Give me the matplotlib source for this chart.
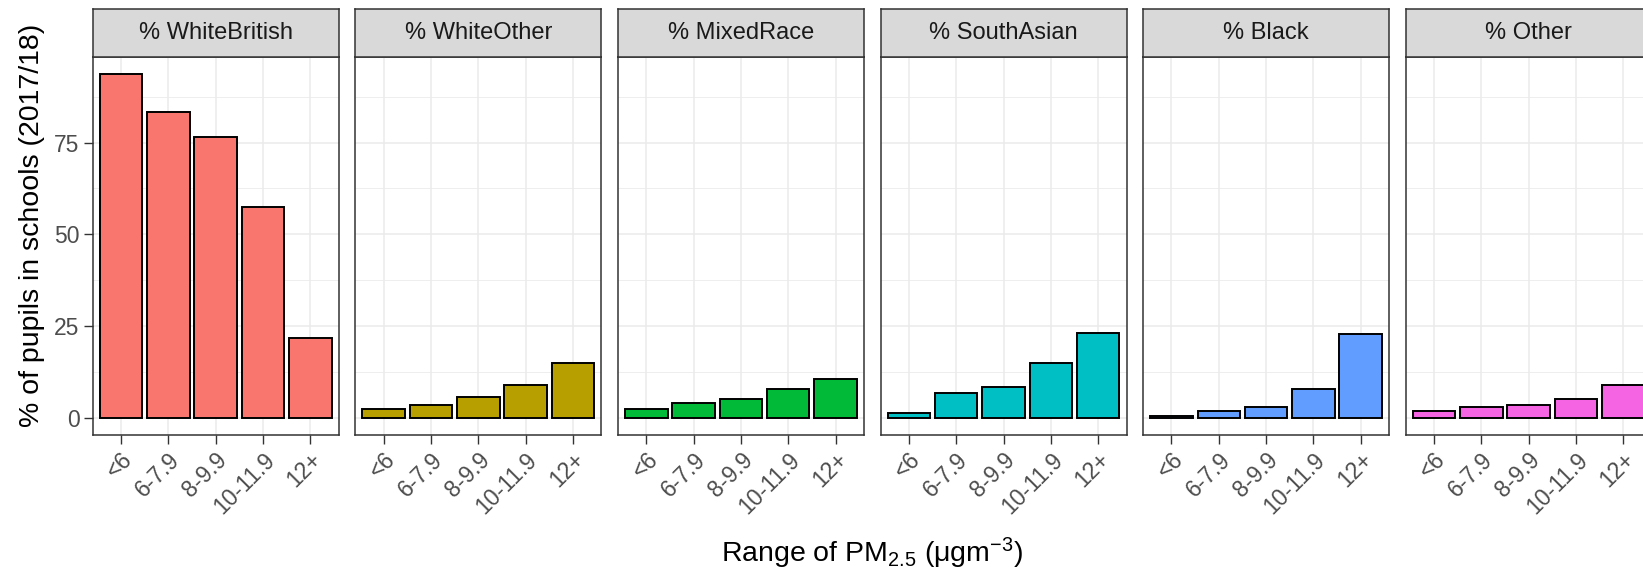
import numpy as np
import matplotlib
matplotlib.use("Agg")
import matplotlib.pyplot as plt

plt.rcParams["font.family"] = ["Liberation Sans", "DejaVu Sans"]
plt.rcParams["mathtext.fontset"] = "custom"
plt.rcParams["mathtext.rm"] = "Liberation Sans"
plt.rcParams["mathtext.it"] = "Liberation Sans:italic"

# data
bins = ["<6", "6-7.9", "8-9.9", "10-11.9", "12+"]
groups = ["% WhiteBritish", "% WhiteOther", "% MixedRace",
          "% SouthAsian", "% Black", "% Other"]
white_british = [93.7, 83.4, 76.4, 57.5, 21.7]
white_other = [2.4, 3.5, 5.6, 8.9, 15.0]
mixed_race = [2.4, 4.0, 5.1, 7.8, 10.5]
south_asian = [1.4, 6.7, 8.4, 15.0, 23.2]
black = [0.5, 1.9, 3.0, 7.9, 22.7]
other = [1.9, 2.9, 3.5, 5.2, 8.9]
values = [white_british, white_other, mixed_race, south_asian, black, other]
colors = ["#F8766D", "#B79F00", "#00BA38", "#00BFC4", "#619CFF", "#F564E3"]

W, H = 1643, 576
fig = plt.figure(figsize=(W / 100, H / 100), dpi=100)

# panel geometry in pixels
left0 = 92.7
pw = 246.0
gap = 16.6
top = 56.7
bottom = 435.0
strip_top = 9.0

ymax = max(max(v) for v in values)
ylo, yhi = -0.05 * ymax, ymax * 1.05
x = np.arange(len(bins))

for i, (name, vals, col) in enumerate(zip(groups, values, colors)):
    lx = left0 + i * (pw + gap)
    ax = fig.add_axes([lx / W, 1 - bottom / H, pw / W, (bottom - top) / H])
    ax.set_axisbelow(True)
    ax.bar(x, vals, width=0.9, color=col, edgecolor="black", linewidth=1.4, zorder=3)
    ax.set_xlim(-0.6, len(bins) - 0.4)
    ax.set_ylim(ylo, yhi)

    ax.set_yticks([0, 25, 50, 75])
    ax.set_yticks([12.5, 37.5, 62.5, 87.5], minor=True)
    ax.set_xticks(x)
    ax.grid(which="major", color="#EBEBEB", linewidth=1.1)
    ax.grid(which="minor", axis="y", color="#EBEBEB", linewidth=0.6)
    ax.tick_params(which="minor", length=0)
    ax.tick_params(which="major", length=6.5, width=1.0, color="#333333",
                   labelsize=16.5, labelcolor="#4D4D4D", pad=3)
    ax.set_xticklabels(bins, rotation=45, ha="right", rotation_mode="anchor")
    if i == 0:
        ax.set_yticklabels(["0", "25", "50", "75"])
    else:
        ax.tick_params(axis="y", which="both", left=False, labelleft=False)
    for s in ax.spines.values():
        s.set_color("#333333")
        s.set_linewidth(1.1)

    # facet strip
    sax = fig.add_axes([lx / W, 1 - top / H, pw / W, (top - strip_top) / H])
    sax.set_facecolor("#D9D9D9")
    sax.set_xticks([])
    sax.set_yticks([])
    for s in sax.spines.values():
        s.set_color("#333333")
        s.set_linewidth(1.1)
    sax.text(0.5, 0.5, name, ha="center", va="center", fontsize=17,
             color="#1A1A1A", transform=sax.transAxes)

fig.text(32 / W, 1 - 225 / H, "% of pupils in schools (2017/18)", rotation=90,
         ha="center", va="center", fontsize=20.5, color="black")
fig.text(872 / W, 1 - 553 / H, "Range of PM$_{2.5}$ (μgm$^{-3}$)",
         ha="center", va="center", fontsize=20.5, color="black")

fig.savefig("out.png", dpi=100, facecolor="white")
